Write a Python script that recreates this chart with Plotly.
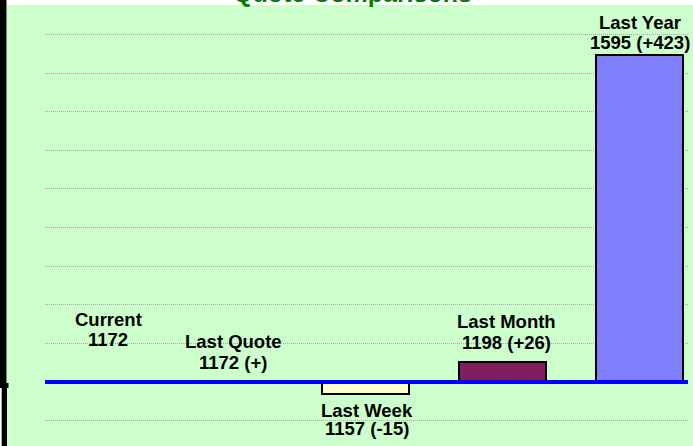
import plotly.graph_objects as go

# ---- data ----
categories = ["Current", "Last Quote", "Last Week", "Last Month", "Last Year"]
values = [1172, 1172, 1157, 1198, 1595]
bar_colors = ["#9999FF", "#993366", "#FFFFCC", "#7F1F5F", "#8080FF"]
title_text = "Quote Comparisons"

BASE = values[0]
diffs = [v - BASE for v in values]


def value_label(i):
    if i == 0:
        return str(values[i])
    d = diffs[i]
    s = f"+{d}" if d > 0 else (f"{d}" if d < 0 else "+")
    return f"{values[i]} ({s})"


# ---- geometry (pixels) ----
W, H = 693, 446


def px_x(px):
    return px / W


def px_y(py):
    return (H - py) / H


FONT = "Liberation Sans, Arial, sans-serif"

fig = go.Figure()
fig.add_trace(go.Bar(
    x=categories, y=diffs, base=BASE, width=0.635,
    marker=dict(color=bar_colors, line=dict(color="black", width=2)),
    hoverinfo="skip",
))

# label offsets (pixels, relative to bar end)
name_yshift = [63, 41, -17, 40, 33]
val_yshift = [43, 20, -35, 19, 13]
label_xshift = [17, 5, 2, 4, 0]

annotations = []
for i, cat in enumerate(categories):
    anchor = values[i] if diffs[i] < 0 else max(values[i], BASE)
    for txt, ys in ((cat, name_yshift[i]), (value_label(i), val_yshift[i])):
        annotations.append(dict(
            x=cat, y=anchor, xref="x", yref="y", text=f"<b>{txt}</b>",
            showarrow=False, xanchor="center", yanchor="middle",
            yshift=ys, xshift=label_xshift[i],
            font=dict(family=FONT, size=18.5, color="black"),
        ))

# clipped title at the very top
annotations.append(dict(
    x=px_x(352), y=px_y(-6.5), xref="paper", yref="paper",
    text=f"<b>{title_text}</b>", showarrow=False,
    xanchor="center", yanchor="middle",
    font=dict(family=FONT, size=25, color="#008000"),
))

shapes = [
    # green background panel
    dict(type="rect", xref="paper", yref="paper", layer="below",
         x0=px_x(7), x1=px_x(W), y0=px_y(5), y1=px_y(H),
         fillcolor="#CCFFCC", line=dict(width=0)),
    # left black border pieces
    dict(type="rect", xref="paper", yref="paper", layer="above",
         x0=px_x(0), x1=px_x(6.5), y0=px_y(0), y1=px_y(383),
         fillcolor="black", line=dict(width=0)),
    dict(type="rect", xref="paper", yref="paper", layer="above",
         x0=px_x(0), x1=px_x(8.5), y0=px_y(383), y1=px_y(388),
         fillcolor="black", line=dict(width=0)),
    dict(type="rect", xref="paper", yref="paper", layer="above",
         x0=px_x(1.7), x1=px_x(7), y0=px_y(388), y1=px_y(H),
         fillcolor="black", line=dict(width=0)),
    # blue baseline at the current value
    dict(type="line", xref="x domain", yref="y", layer="above",
         x0=0, x1=1, y0=BASE, y1=BASE,
         line=dict(color="#0000FF", width=4)),
]

fig.update_layout(
    width=W, height=H,
    margin=dict(l=0, r=0, t=0, b=0, pad=0, autoexpand=False),
    paper_bgcolor="white",
    plot_bgcolor="rgba(0,0,0,0)",
    showlegend=False,
    annotations=annotations,
    shapes=shapes,
    bargap=0,
    xaxis=dict(type="category", domain=[px_x(45), px_x(688)],
               range=[-0.339, 4.354], showticklabels=False,
               showgrid=False, showline=False, zeroline=False, ticks=""),
    yaxis=dict(domain=[0, px_y(5)], range=[1089.1, 1660.3], tick0=BASE, dtick=50,
               showticklabels=False, showline=False, zeroline=False, ticks="",
               showgrid=True, gridcolor="#a8a8a8", gridwidth=1, griddash="1px,1px"),
    hovermode=False,
)

fig.write_html(
    "out.html",
    config={"displayModeBar": False},
    post_script="document.body.style.margin='0';document.body.style.overflow='hidden';",
)
